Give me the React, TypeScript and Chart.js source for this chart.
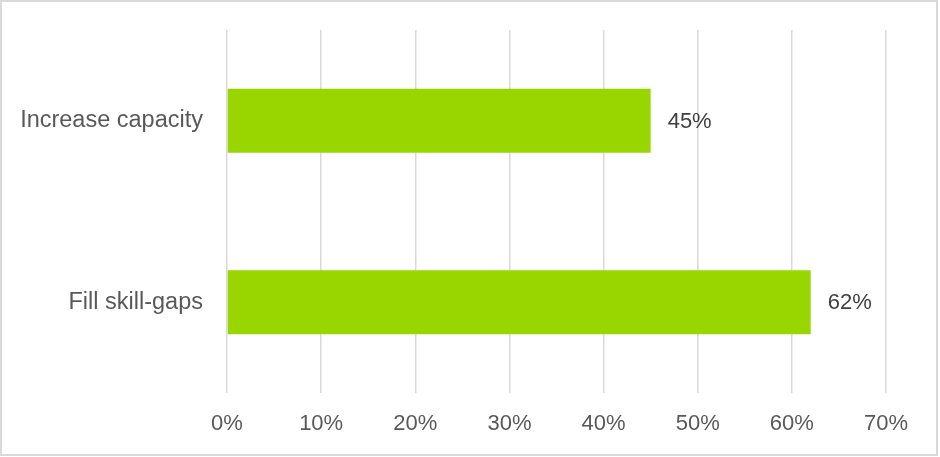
import React, { useEffect, useRef } from "react";
import { Chart, registerables } from "chart.js";

Chart.register(...registerables);

const categories = ["Increase capacity", "Fill skill-gaps"];
const values = [45, 62];
const xTicks = [0, 10, 20, 30, 40, 50, 60, 70];

const FONT = "'Liberation Sans', Arial, sans-serif";

const dataLabels = {
  id: "dataLabels",
  afterDatasetsDraw(chart: any) {
    const ctx = chart.ctx;
    const meta = chart.getDatasetMeta(0);
    ctx.save();
    ctx.font = `22px ${FONT}`;
    ctx.fillStyle = "#404040";
    ctx.textAlign = "left";
    ctx.textBaseline = "middle";
    meta.data.forEach((bar: any, i: number) => {
      ctx.fillText(values[i] + "%", bar.x + 17, bar.y + 1);
    });
    ctx.restore();
  },
};

export default function App() {
  const ref = useRef<HTMLCanvasElement>(null);
  useEffect(() => {
    document.body.style.margin = "0";
    const chart = new Chart(ref.current!, {
      type: "bar",
      data: {
        labels: categories,
        datasets: [
          {
            data: values,
            backgroundColor: "#99D600",
            borderWidth: 0,
            barPercentage: 0.353,
            categoryPercentage: 1,
          },
        ],
      },
      options: {
        indexAxis: "y",
        animation: false,
        responsive: false,
        layout: { padding: { top: 30, right: 54, left: 0, bottom: 0 } },
        plugins: { legend: { display: false }, tooltip: { enabled: false } },
        scales: {
          x: {
            min: 0,
            max: 70,
            afterFit(scale: any) {
              scale.height = 64;
              scale.paddingLeft = 0;
              scale.paddingRight = 0;
            },
            afterBuildTicks(scale: any) {
              scale.ticks = xTicks.map((v) => ({ value: v }));
            },
            grid: { color: "#d9d9d9", lineWidth: 1.5, drawTicks: false },
            border: { display: false },
            ticks: {
              padding: 18,
              color: "#595959",
              font: { family: FONT, size: 22 },
              callback: (v: any) => v + "%",
            },
          },
          y: {
            afterFit(scale: any) {
              scale.width = 227;
              scale.paddingTop = 0;
              scale.paddingBottom = 0;
            },
            grid: { display: false, drawTicks: false },
            border: { display: false },
            ticks: {
              padding: 24,
              color: "#595959",
              font: { family: FONT, size: 23.5 },
            },
          },
        },
      },
      plugins: [dataLabels],
    });
    return () => chart.destroy();
  }, []);
  return (
    <div style={{ position: "relative", width: 940, height: 457 }}>
      <canvas
        ref={ref}
        width={940}
        height={457}
        style={{ position: "absolute", left: 0, top: 0, width: 940, height: 457 }}
      />
      <div
        style={{
          position: "absolute",
          left: 0,
          top: 0,
          width: 938,
          height: 456,
          boxSizing: "border-box",
          border: "2px solid #d9d9d9",
          pointerEvents: "none",
        }}
      />
    </div>
  );
}
